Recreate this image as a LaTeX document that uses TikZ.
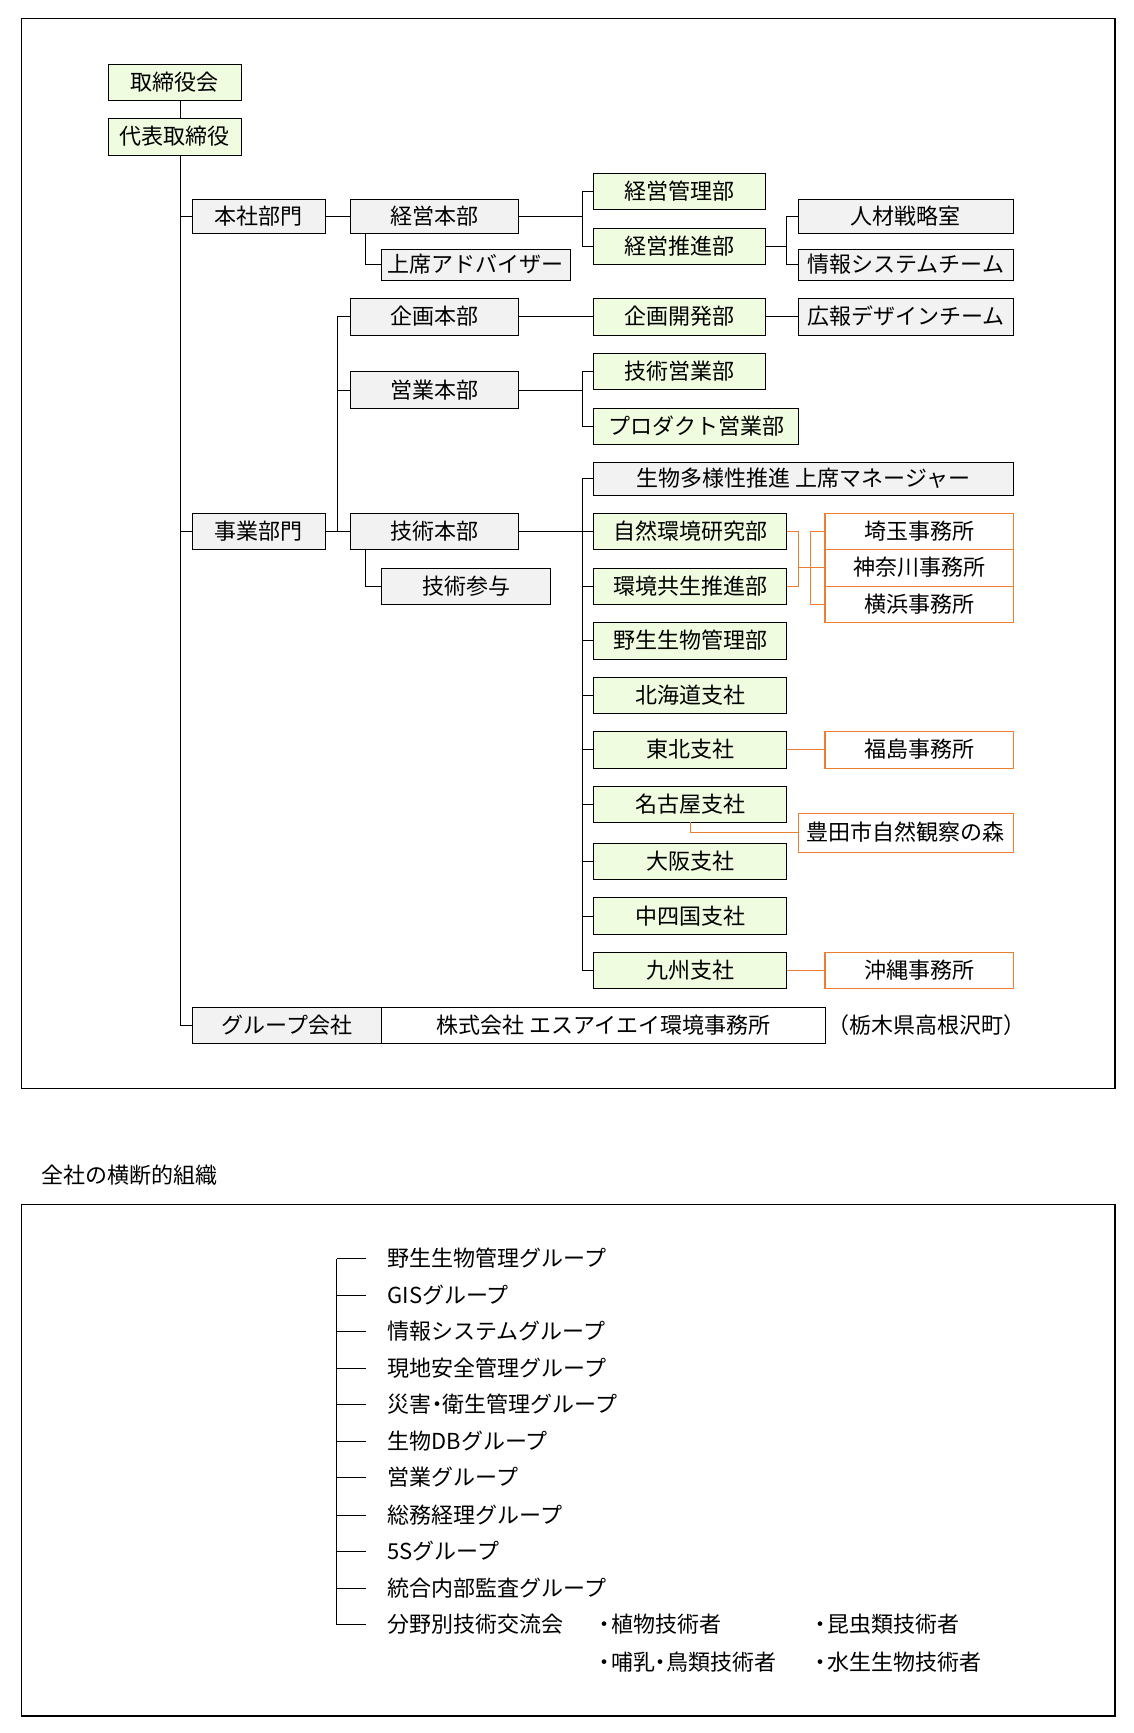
\documentclass[tikz,border=0pt]{standalone}
\usepackage{fontspec}
\setmainfont{Noto Sans CJK JP}
\definecolor{gfill}{HTML}{F0FCDF}
\definecolor{gyfill}{HTML}{F2F2F2}
\definecolor{ofr}{HTML}{ED7D31}
\newcommand\kdot{\kern-0.25em・\kern-0.25em}
\newcommand\ldot{・\kern-0.2em}
\newcommand\bx[7]{\node[#2, minimum width={#5-#3}, minimum height={#6-#4}] (#1) at ({(#3+#5)/2},{(#4+#6)/2}) {#7};}
\begin{document}
\begin{tikzpicture}[x=1pt,y=-1pt,
  font=\fontsize{22}{26}\selectfont,
  bbase/.style={rectangle, inner sep=0pt, outer sep=0pt, line width=1.2pt,
    text height=1.6em, text depth=0pt},
  gbox/.style={bbase, draw=black, fill=gfill},
  ybox/.style={bbase, draw=black, fill=gyfill},
  wbox/.style={bbase, draw=black, fill=white},
  obox/.style={bbase, draw=ofr, fill=white},
  lbl/.style={inner sep=0pt, outer sep=0pt, text height=1.6em, text depth=0pt},
  ln/.style={line width=1pt, draw=black},
  oln/.style={line width=1pt, draw=ofr},
  frm/.style={line width=1.2pt, draw=black}]
\useasboundingbox (0,0) rectangle (1134,1733);

% frames
\draw[frm] (21.4,18.3) rectangle (1115,1088.3);
\draw[frm] (21.4,1204.4) rectangle (1115,1716);

% helper coordinates (x positions of vertical lines)
\coordinate (trunk) at (180.2,0);
\coordinate (s1) at (365.4,0);
\coordinate (v2) at (337.5,0);
\coordinate (b1) at (582.5,0);
\coordinate (b2) at (786.3,0);
\coordinate (o1) at (798.4,0);
\coordinate (o2) at (810.3,0);
\coordinate (v3) at (336.8,0);
\coordinate (s3) at (365.5,0);

% boxes
\bx{torishimari}{gbox}{108.3}{64.3}{241.5}{100.3}{取締役会}
\bx{daihyo}{gbox}{108.3}{118.3}{241.5}{155.3}{代表取締役}
\bx{honsha}{ybox}{192.1}{199.3}{325.3}{233.3}{本社部門}
\bx{keieihonbu}{ybox}{350.1}{199.3}{518.5}{233.3}{経営本部}
\bx{adviser}{ybox}{381.5}{249.3}{570.2}{280.3}{上席アドバイザー}
\bx{keieikanri}{gbox}{593.8}{173.3}{765.3}{209.3}{経営管理部}
\bx{keieisuishin}{gbox}{593.8}{228.7}{765.3}{264.3}{経営推進部}
\bx{jinzai}{ybox}{798.4}{199.3}{1013.5}{233.3}{人材戦略室}
\bx{johosys}{ybox}{798.4}{249.3}{1013.5}{280.3}{情報システムチーム}
\bx{kikakuhonbu}{ybox}{350.1}{298.3}{518.5}{335.3}{企画本部}
\bx{kikakukaihatsu}{gbox}{593.8}{298.3}{765.3}{335.3}{企画開発部}
\bx{koho}{ybox}{798.4}{298.3}{1013.5}{335.3}{広報デザインチーム}
\bx{eigyohonbu}{ybox}{350.1}{371.7}{518.5}{408.3}{営業本部}
\bx{gijutsueigyo}{gbox}{593.8}{353.3}{765.3}{389.3}{技術営業部}
\bx{product}{gbox}{593.8}{408.3}{798.4}{444.3}{プロダクト営業部}
\bx{jigyo}{ybox}{192.1}{513.3}{325.3}{549.3}{事業部門}
\bx{gijutsuhonbu}{ybox}{350.1}{513.3}{518.5}{549.3}{技術本部}
\bx{sanyo}{ybox}{381.5}{568.3}{550.7}{604.3}{技術参与}
\bx{biodiv}{ybox}{593.8}{462.3}{1013.5}{495.3}{生物多様性推進 上席マネージャー}
\bx{shizen}{gbox}{593.8}{513.3}{786.5}{549.3}{自然環境研究部}
\bx{kyosei}{gbox}{593.8}{568.3}{786.5}{604.3}{環境共生推進部}
\bx{yasei}{gbox}{593.8}{622.3}{786.5}{659.3}{野生生物管理部}
\bx{hokkaido}{gbox}{593.8}{677.3}{786.5}{713.3}{北海道支社}
\bx{tohoku}{gbox}{593.8}{731.3}{786.5}{768.3}{東北支社}
\bx{nagoya}{gbox}{593.8}{786.7}{786.5}{822.3}{名古屋支社}
\bx{osaka}{gbox}{593.8}{843.3}{786.5}{879.3}{大阪支社}
\bx{chushikoku}{gbox}{593.8}{897.3}{786.5}{934.7}{中四国支社}
\bx{kyushu}{gbox}{593.8}{952.3}{786.5}{988.3}{九州支社}
\bx{saitama}{obox}{824.9}{513.3}{1013.3}{549.3}{埼玉事務所}
\bx{kanagawa}{obox}{824.9}{549.3}{1013.3}{586.3}{神奈川事務所}
\bx{yokohama}{obox}{824.9}{586.3}{1013.3}{622.3}{横浜事務所}
\bx{fukushima}{obox}{824.9}{731.3}{1013.3}{768.3}{福島事務所}
\bx{toyota}{obox}{798.4}{813.3}{1013.3}{852.3}{豊田市自然観察の森}
\bx{okinawa}{obox}{824.9}{952.3}{1013.3}{988.3}{沖縄事務所}
\bx{group}{ybox}{192.1}{1007.3}{381.6}{1043.3}{グループ会社}
\bx{sia}{wbox}{381.6}{1007.3}{825.3}{1043.3}{株式会社 エスアイエイ環境事務所}
\node[lbl] (tochigi) at (926,1025.3) {（栃木県高根沢町）};

% connectors (black)
\draw[ln] (torishimari.south -| trunk) -- (daihyo.north -| trunk);
\draw[ln] (daihyo.south -| trunk) |- (group.west);
\draw[ln] (honsha.west -| trunk) -- (honsha.west);
\draw[ln] (jigyo.west -| trunk) -- (jigyo.west);
\draw[ln] (honsha.east) -- (keieihonbu.west);
\draw[ln] (keieihonbu.south -| s1) |- (adviser.west);
\draw[ln] (keieihonbu.east) -- (keieihonbu.east -| b1);
\draw[ln] (keieikanri.west) -| (b1 |- keieisuishin.west) -- (keieisuishin.west);
\draw[ln] (keieisuishin.east) -- (keieisuishin.east -| b2);
\draw[ln] (jinzai.west) -| (b2 |- johosys.west) -- (johosys.west);
\draw[ln] (jigyo.east) -- (gijutsuhonbu.west);
\draw[ln] (kikakuhonbu.west) -| (v2 |- gijutsuhonbu.west);
\draw[ln] (eigyohonbu.west) -- (eigyohonbu.west -| v2);
\draw[ln] (kikakuhonbu.east) -- (kikakukaihatsu.west);
\draw[ln] (kikakukaihatsu.east) -- (koho.west);
\draw[ln] (eigyohonbu.east) -- (eigyohonbu.east -| b1);
\draw[ln] (gijutsueigyo.west) -| (b1 |- product.west) -- (product.west);
\draw[ln] (gijutsuhonbu.south -| s1) |- (sanyo.west);
\draw[ln] (gijutsuhonbu.east) -- (gijutsuhonbu.east -| b1);
\draw[ln] (biodiv.west) -| (b1 |- kyushu.west) -- (kyushu.west);
\foreach \n in {shizen,kyosei,yasei,hokkaido,tohoku,nagoya,osaka,chushikoku}
  \draw[ln] (\n.west -| b1) -- (\n.west);

% connectors (orange)
\draw[oln] (shizen.east) -| (o1 |- kyosei.east) -- (kyosei.east);
\draw[oln] (o1 |- kanagawa.west) -- (kanagawa.west);
\draw[oln] (saitama.west) -| (o2 |- yokohama.west) -- (yokohama.west);
\draw[oln] (tohoku.east) -- (fukushima.west);
\draw[oln] (nagoya.south) |- (toyota.west);
\draw[oln] (kyushu.east) -- (okinawa.west);

% cross-company organisation
\node[lbl, anchor=west] (title) at (41.5,1175) {全社の横断的組織};
\node[lbl, anchor=west] (g1) at (387.5,1258.5) {野生生物管理グループ};
\node[lbl, anchor=west] (g2) at (387.5,1295.2) {GISグループ};
\node[lbl, anchor=west] (g3) at (387.5,1331.7) {情報システムグループ};
\node[lbl, anchor=west] (g4) at (387.5,1368.2) {現地安全管理グループ};
\node[lbl, anchor=west] (g5) at (387.5,1404.6) {災害\kdot 衛生管理グループ};
\node[lbl, anchor=west] (g6) at (387.5,1441.1) {生物DBグループ};
\node[lbl, anchor=west] (g7) at (387.5,1477.7) {営業グループ};
\node[lbl, anchor=west] (g8) at (387.5,1515.0) {総務経理グループ};
\node[lbl, anchor=west] (g9) at (387.5,1551.8) {5Sグループ};
\node[lbl, anchor=west] (g10) at (387.5,1588.2) {統合内部監査グループ};
\node[lbl, anchor=west] (g11) at (387.5,1624.9) {分野別技術交流会};
\node[lbl, anchor=west] (t1) at (593.5,1624.9) {\ldot 植物技術者};
\node[lbl, anchor=west] (t2) at (809.5,1624.9) {\ldot 昆虫類技術者};
\node[lbl, anchor=west] (t3) at (593.5,1662.3) {\ldot 哺乳\kdot 鳥類技術者};
\node[lbl, anchor=west] (t4) at (809.5,1662.3) {\ldot 水生生物技術者};

\draw[ln] (g1.west -| v3) -- (g11.west -| v3);
\foreach \n in {g1,g2,g3,g4,g5,g6,g7,g8,g9,g10,g11}
  \draw[ln] (\n.west -| v3) -- (\n.west -| s3);
\end{tikzpicture}
\end{document}
